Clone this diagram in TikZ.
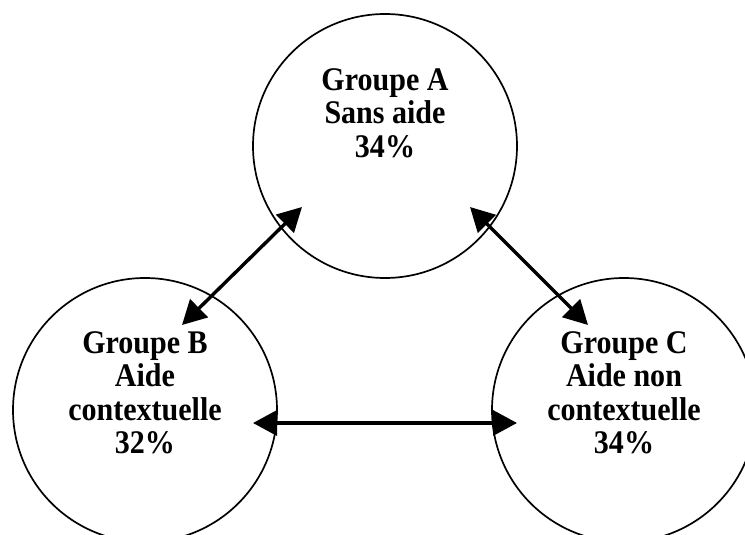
\documentclass[tikz,border=0pt]{standalone}
\usepackage{fontspec}
\setmainfont[FakeStretch=0.91]{Liberation Serif}
\usetikzlibrary{arrows.meta,calc}
\begin{document}
\begin{tikzpicture}[x=0.5pt,y=-0.5pt,font=\bfseries\fontsize{16.5}{16.7}\selectfont]
\tikzset{grp/.style={draw,circle,line width=0.85pt,minimum size=132pt,inner sep=0pt}, txt/.style={align=center,anchor=north,inner sep=0pt}, ar/.style={{Triangle[length=12pt,width=12.5pt]}-{Triangle[length=12pt,width=12.5pt]},line width=1.7pt}}
\useasboundingbox (0,0) rectangle (745,535);
\clip (0,0) rectangle (745,535);
\node[grp] (A) at (385,146) {};
\node[grp] (B) at (145,410) {};
\node[grp] (C) at (624,410) {};
\node[txt] (tA) at ($(A)+(0,-78)$) {Groupe A\\Sans aide\\34\%};
\node[txt] (tB) at ($(B)+(0,-79)$) {Groupe B\\Aide\\contextuelle\\32\%};
\node[txt] (tC) at ($(C)+(0,-79)$) {Groupe C\\Aide non\\contextuelle\\34\%};
\draw[ar] ($(A)+(-83,61)$)--($(B)+(37,-85)$);
\draw[ar] ($(A)+(85,61)$)--($(C)+(-36,-85)$);
\draw[ar] ($(B)+(108,13)$)--($(C)+(-107,13)$);
\end{tikzpicture}
\end{document}
